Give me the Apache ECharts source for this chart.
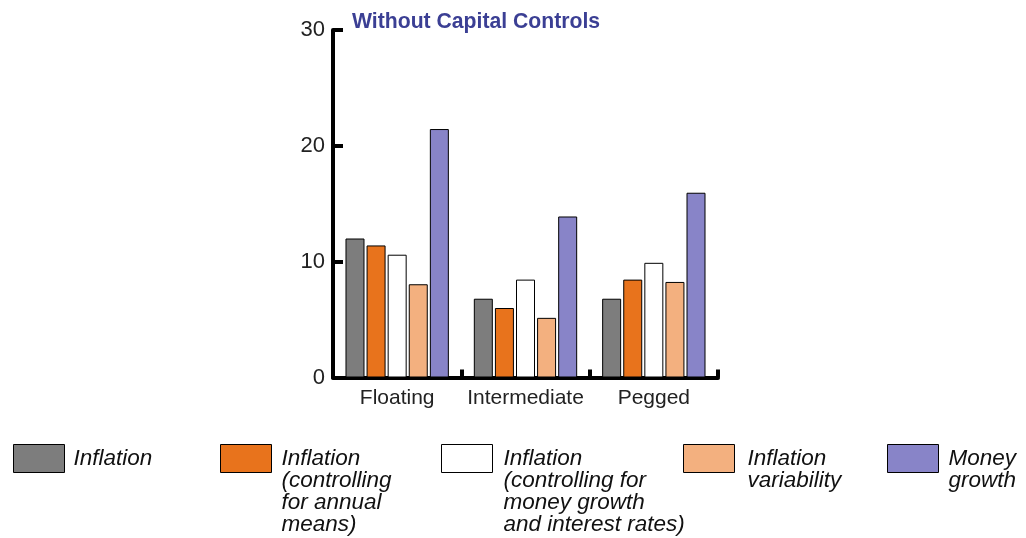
<!DOCTYPE html>
<html>
<head>
<meta charset="utf-8">
<script src="https://cdn.jsdelivr.net/npm/echarts@6/dist/echarts.min.js"></script>
<style>html,body{margin:0;padding:0;background:#fff}#c{width:1026px;height:538px}</style>
</head>
<body>
<div id="c"></div>
<script>
const titleText = 'Without Capital Controls';
const categories = ['Floating', 'Intermediate', 'Pegged'];
const seriesNames = ['Inflation', 'Inflation (controlling for annual means)', 'Inflation (controlling for money growth and interest rates)', 'Inflation variability', 'Money growth'];
const legendLines = [
  ['Inflation'],
  ['Inflation', '(controlling', 'for annual', 'means)'],
  ['Inflation', '(controlling for', 'money growth', 'and interest rates)'],
  ['Inflation', 'variability'],
  ['Money', 'growth']
];
const inflation = [12.0, 6.8, 6.8];
const inflationAnnual = [11.4, 6.0, 8.45];
const inflationMoney = [10.6, 8.45, 9.9];
const inflationVar = [8.05, 5.15, 8.25];
const moneyGrowth = [21.45, 13.9, 15.95];
const yTicks = [0, 10, 20, 30];

const values = [inflation, inflationAnnual, inflationMoney, inflationVar, moneyGrowth];
const colors = ['#7d7d7d', '#e8731c', '#ffffff', '#f3b07f', '#8884c8'];
const legendLeft = [13, 220, 441, 683, 887];
const legendTextPad = [4, 5, 6, 8, 5];

const chart = echarts.init(document.getElementById('c'));
const LH = 22;
const legends = seriesNames.map((name, i) => {
  const n = legendLines[i].length;
  const extra = Math.max(0, (2 * n - 1) * (LH / 2) - 14);
  // blank lines before the text so the first line sits level with the swatch
  const txt = new Array(n - 1).fill('').concat(legendLines[i]).join('\n');
  return {
    data: [name],
    left: legendLeft[i],
    top: 444 - extra,
    padding: 0,
    itemWidth: 51,
    itemHeight: 28,
    selectedMode: false,
    icon: 'rect',
    itemStyle: { borderColor: '#000', borderWidth: 1 },
    formatter: () => txt,
    textStyle: {
      fontFamily: 'Liberation Sans, Arial, sans-serif',
      fontSize: 22.5,
      fontStyle: 'italic',
      color: '#111',
      lineHeight: LH,
      padding: [0, 0, 0, legendTextPad[i]]
    }
  };
});

chart.setOption({
  animation: false,
  backgroundColor: '#fff',
  title: {
    text: titleText,
    left: 352,
    top: 12,
    padding: 0,
    textStyle: { fontFamily: 'Liberation Sans, Arial, sans-serif', fontSize: 21.2, fontWeight: 'bold', color: '#3b3f94' }
  },
  legend: legends,
  grid: { left: 333, right: 308, top: 30, bottom: 160.5, containLabel: false },
  xAxis: {
    type: 'category',
    data: categories,
    axisLine: { lineStyle: { color: '#000', width: 4 } },
    axisTick: { show: true, inside: true, length: 8, interval: 0, lineStyle: { color: '#000', width: 4 } },
    axisLabel: { fontFamily: 'Liberation Sans, Arial, sans-serif', fontSize: 21, color: '#222', margin: 10, interval: 0 }
  },
  yAxis: {
    type: 'value',
    min: 0, max: 30, interval: 10,
    splitLine: { show: false },
    axisLine: { show: true, lineStyle: { color: '#000', width: 4 } },
    axisTick: { show: true, inside: true, length: 10, lineStyle: { color: '#000', width: 4 } },
    axisLabel: {
      fontFamily: 'Liberation Sans, Arial, sans-serif', fontSize: 22, color: '#222', margin: 8,
      formatter: v => yTicks.includes(v) ? String(v) : ''
    }
  },
  series: seriesNames.map((name, i) => ({
    name,
    type: 'bar',
    data: values[i],
    barWidth: 19,
    barGap: '11%',
    itemStyle: { color: colors[i], borderColor: '#000', borderWidth: 1 }
  }))
});
</script>
</body>
</html>
